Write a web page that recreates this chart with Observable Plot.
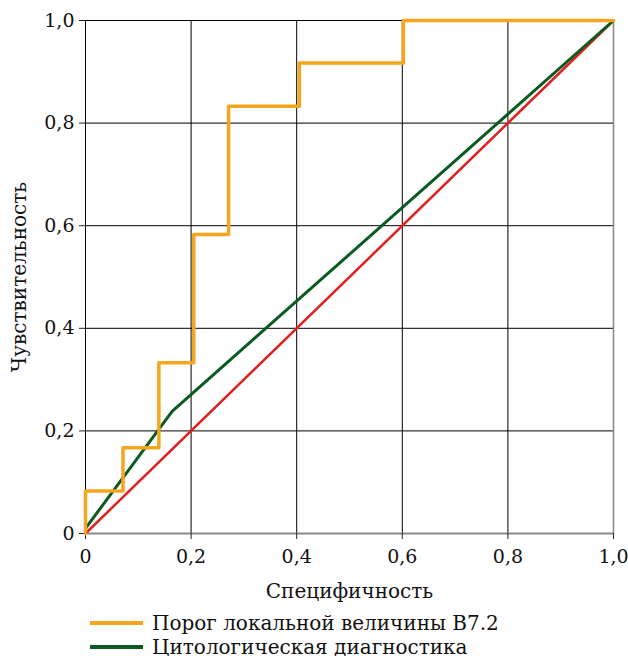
<!DOCTYPE html>
<html>
<head>
<meta charset="utf-8">
<script src="https://cdn.jsdelivr.net/npm/d3@7"></script>
<script src="https://cdn.jsdelivr.net/npm/@observablehq/plot@0.6"></script>
<style>
  body { margin: 0; background: #fff; font-family: "DejaVu Serif", "Liberation Serif", "DejaVu Sans", sans-serif; }
  #legend { position: relative; height: 51px; }
  .item { position: absolute; left: 90px; display: flex; align-items: center; font-size: 20px; line-height: 22px; color: #111; }
  .sw { width: 53px; height: 4px; margin-right: 9px; }
</style>
</head>
<body>
<div id="chart"></div>
<div id="legend"></div>
<script>
// Orange ROC (threshold of local value B7.2) – step points
const rocX = [0, 0, 0.071, 0.139, 0.205, 0.271, 0.405, 0.602, 1];
const rocY = [0, 0.083, 0.167, 0.333, 0.583, 0.833, 0.917, 1, 1];
// Green line (cytological diagnostics)
const cytoX = [0, 0.164, 1];
const cytoY = [0.01, 0.238, 1];
// Red diagonal
const diagX = [0, 1];
const diagY = [0, 1];
const ticks = [0, 0.2, 0.4, 0.6, 0.8, 1];
const gridTicks = [0.2, 0.4, 0.6, 0.8];
const seriesNames = ["Порог локальной величины B7.2", "Цитологическая диагностика"];
const seriesColors = ["#f6a51e", "#0b5a1f"];
const xTitle = "Специфичность";
const yTitle = "Чувствительность";

const fmt = d => d === 0 ? "0" : d.toFixed(1).replace(".", ",");
const roc = rocX.map((x, i) => ({x, y: rocY[i]}));
const cyto = cytoX.map((x, i) => ({x, y: cytoY[i]}));
const diag = diagX.map((x, i) => ({x, y: diagY[i]}));

const font = "'DejaVu Serif', 'Liberation Serif', 'DejaVu Sans', sans-serif";
const chart = Plot.plot({
  width: 628,
  height: 605,
  marginLeft: 85,
  marginRight: 15,
  marginTop: 20,
  marginBottom: 72,
  style: {fontFamily: font, fontSize: "19px", color: "#111", background: "#fff"},
  x: {domain: [0, 1]},
  y: {domain: [0, 1]},
  marks: [
    Plot.ruleX(gridTicks, {stroke: "#000", strokeWidth: 1}),
    Plot.ruleY([...gridTicks, 1], {stroke: "#000", strokeWidth: 1}),
    Plot.ruleX([0], {stroke: "#000", strokeWidth: 1}),
    Plot.ruleX([1], {stroke: "#888", strokeWidth: 1.5}),
    Plot.ruleY([0], {stroke: "#888", strokeWidth: 2}),
    Plot.axisX({ticks, tickFormat: fmt, tickSize: 6, tickPadding: 10, stroke: "#222", fontSize: 19,
      label: null}),
    Plot.axisX({ticks: [], label: xTitle, labelAnchor: "center", labelArrow: "none", labelOffset: 64, fontSize: 20}),
    Plot.axisY({ticks, tickFormat: fmt, tickSize: 6, tickPadding: 5, stroke: "#222", fontSize: 19,
      label: null}),
    Plot.axisY({ticks: [], label: yTitle, labelAnchor: "center", labelArrow: "none", labelOffset: 74, fontSize: 20}),
    Plot.line(diag, {x: "x", y: "y", stroke: "#e0201f", strokeWidth: 2.5}),
    Plot.line(cyto, {x: "x", y: "y", stroke: seriesColors[1], strokeWidth: 3}),
    Plot.line(roc, {x: "x", y: "y", stroke: seriesColors[0], strokeWidth: 3.5, curve: "step-after"})
  ]
});
document.getElementById("chart").appendChild(chart);

const legend = document.getElementById("legend");
seriesNames.forEach((name, i) => {
  const item = document.createElement("div");
  item.className = "item";
  item.style.top = (i * 24 + 7) + "px";
  const sw = document.createElement("span");
  sw.className = "sw";
  sw.style.background = seriesColors[i];
  const t = document.createElement("span");
  t.textContent = name;
  item.appendChild(sw);
  item.appendChild(t);
  legend.appendChild(item);
});
</script>
</body>
</html>
